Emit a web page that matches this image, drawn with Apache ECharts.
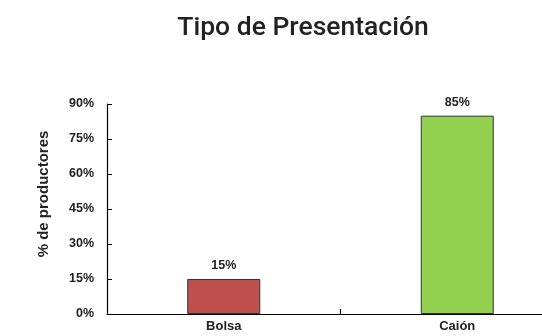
<!DOCTYPE html>
<html>
<head>
<meta charset="utf-8">
<script src="https://cdn.jsdelivr.net/npm/echarts@6/dist/echarts.min.js"></script>
<style>
  html, body { margin: 0; padding: 0; background: #ffffff; }
  #chart { width: 542px; height: 336px; }
</style>
</head>
<body>
<div id="chart"></div>
<script>
// Presentation type reported by producers (% of producers)
const categories = ['Bolsa', 'Caión'];
const shares = [15, 85];
const barColors = ['#c0504d', '#92d050'];
const yTicks = [0, 15, 30, 45, 60, 75, 90];

const chart = echarts.init(document.getElementById('chart'), null, { renderer: 'canvas' });

chart.setOption({
  animation: false,
  backgroundColor: '#ffffff',
  title: {
    text: 'Tipo de Presentación',
    left: 298,
    top: 10,
    textAlign: 'center',
    textStyle: {
      fontFamily: 'Roboto',
      fontWeight: 500,
      fontSize: 26.5,
      color: '#222222'
    }
  },
  grid: {
    left: 107,
    width: 467,
    top: 104,
    height: 210,
    containLabel: false,
    outerBoundsMode: 'none'
  },
  xAxis: {
    type: 'category',
    data: categories,
    axisLine: { lineStyle: { color: '#000000', width: 1.2 } },
    axisTick: { show: true, inside: true, length: 5, lineStyle: { color: '#000000' } },
    axisLabel: {
      margin: 6,
      fontFamily: 'Liberation Sans',
      fontWeight: 'bold',
      fontSize: 13,
      color: '#222222'
    },
    splitLine: { show: false }
  },
  yAxis: {
    type: 'value',
    min: yTicks[0],
    max: yTicks[yTicks.length - 1],
    interval: 15,
    name: '% de productores',
    nameLocation: 'middle',
    nameGap: 56,
    nameTextStyle: {
      fontFamily: 'Liberation Sans',
      fontWeight: 'bold',
      fontSize: 15,
      color: '#222222',
      padding: [0, 0, 0, 30]
    },
    axisLine: { show: true, lineStyle: { color: '#000000', width: 1.2 } },
    axisTick: { show: true, inside: true, length: 5, lineStyle: { color: '#000000' } },
    axisLabel: {
      margin: 13,
      fontFamily: 'Liberation Sans',
      fontWeight: 'bold',
      fontSize: 12.5,
      color: '#222222',
      formatter: v => v + '%'
    },
    splitLine: { show: false }
  },
  series: [{
    type: 'bar',
    data: shares.map((v, i) => ({ value: v, itemStyle: { color: barColors[i] } })),
    barWidth: 73,
    itemStyle: { borderColor: '#333333', borderWidth: 1 },
    label: {
      show: true,
      position: 'top',
      distance: 7,
      fontFamily: 'Liberation Sans',
      fontWeight: 'bold',
      fontSize: 12.5,
      color: '#222222',
      formatter: p => p.value + '%'
    }
  }]
});
</script>
</body>
</html>
